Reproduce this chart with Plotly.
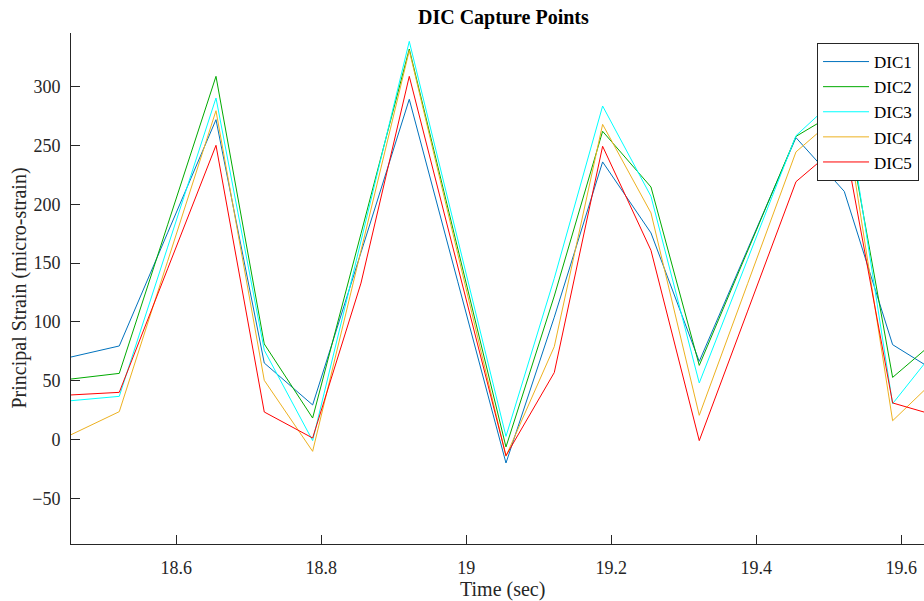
import plotly.graph_objects as go

# Sample times (s) and principal strain (micro-strain) at five DIC capture points
time_s = [18.4547, 18.5213, 18.588, 18.6547, 18.7213, 18.788, 18.8547, 18.9213,
          18.988, 19.0547, 19.1213, 19.188, 19.2547, 19.3213, 19.388, 19.4547,
          19.5213, 19.588, 19.6547]

dic1 = [70.2, 79.6, 175.7, 271.8, 65.1, 29.5, 159.0, 289.1, 134.6, -19.8,
        104.0, 235.9, 175.6, 66.5, 161.7, 256.5, 210.9, 80.7, 55.2]
dic2 = [51.5, 56.3, 182.5, 308.6, 81.3, 18.4, 175.0, 331.8, 162.8, -6.2,
        122.0, 261.9, 214.6, 63.1, 160.3, 257.6, 282.0, 52.9, 88.0]
dic3 = [33.1, 36.8, 163.5, 290.2, 76.0, -0.8, 168.7, 338.3, 170.5, 2.8,
        137.0, 283.4, 206.7, 48.2, 153.2, 258.2, 296.0, 30.6, 82.2]
dic4 = [4.2, 23.8, 151.6, 279.4, 50.4, -9.9, 160.5, 330.5, 158.3, -14.0,
        79.0, 267.8, 192.6, 20.7, 132.5, 244.4, 280.0, 16.1, 55.6]
dic5 = [38.0, 40.2, 145.1, 250.0, 23.5, 1.4, 133.0, 308.6, 147.5, -13.6,
        57.0, 249.2, 160.8, -0.8, 109.2, 219.1, 254.0, 31.2, 19.3]

series_names = ["DIC1", "DIC2", "DIC3", "DIC4", "DIC5"]
series_values = [dic1, dic2, dic3, dic4, dic5]
series_colors = ["#0072BD", "#00AA00", "#00FFFF", "#EDB120", "#FF0000"]

x_ticks = [18.6, 18.8, 19.0, 19.2, 19.4, 19.6]
x_tick_labels = ["18.6", "18.8", "19", "19.2", "19.4", "19.6"]
y_ticks = [-50, 0, 50, 100, 150, 200, 250, 300]

FONT = "Liberation Serif"
AXIS_COLOR = "#262626"

fig = go.Figure()
for name, vals, col in zip(series_names, series_values, series_colors):
    fig.add_trace(go.Scatter(
        x=time_s, y=vals, mode="lines", name=name,
        line=dict(color=col, width=1),
    ))

fig.update_layout(
    width=924, height=601,
    margin=dict(l=71, r=0, t=33, b=57),
    paper_bgcolor="white", plot_bgcolor="white",
    font=dict(family=FONT, size=18, color=AXIS_COLOR),
    showlegend=True,
    legend=dict(
        x=0.8746, xanchor="left", y=0.9804, yanchor="top",
        bgcolor="white", bordercolor=AXIS_COLOR, borderwidth=1,
        font=dict(family=FONT, size=17, color="black"),
        tracegroupgap=0, itemwidth=46,
    ),
    annotations=[
        dict(text="<b>DIC Capture Points</b>", xref="paper", yref="paper",
             x=0.5076, y=1.0, yshift=16, xanchor="center", yanchor="middle",
             showarrow=False, font=dict(family=FONT, size=20, color="black")),
        dict(text="Time (sec)", xref="paper", yref="paper",
             x=0.5053, y=0, yshift=-45, xanchor="center", yanchor="middle",
             showarrow=False, font=dict(family=FONT, size=20, color=AXIS_COLOR)),
        dict(text="Principal Strain (micro-strain)", xref="paper", yref="paper",
             x=0, xshift=-52, y=0.50, yanchor="middle", xanchor="center",
             textangle=-90, showarrow=False,
             font=dict(family=FONT, size=20, color=AXIS_COLOR)),
    ],
)

fig.update_xaxes(
    range=[18.4547, 19.6313],
    tickmode="array", tickvals=x_ticks, ticktext=x_tick_labels,
    ticks="inside", ticklen=9, tickwidth=1, tickcolor=AXIS_COLOR,
    showline=True, linecolor=AXIS_COLOR, linewidth=1, mirror=False,
    showgrid=False, zeroline=False, ticklabelstandoff=7,
    tickfont=dict(family=FONT, size=18, color=AXIS_COLOR),
)
fig.update_yaxes(
    range=[-88.6, 345.4],
    tickmode="array", tickvals=y_ticks,
    ticks="inside", ticklen=9, tickwidth=1, tickcolor=AXIS_COLOR,
    showline=True, linecolor=AXIS_COLOR, linewidth=1, mirror=False,
    showgrid=False, zeroline=False, ticklabelstandoff=6,
    tickfont=dict(family=FONT, size=18, color=AXIS_COLOR),
)

fig.write_html("out.html")
